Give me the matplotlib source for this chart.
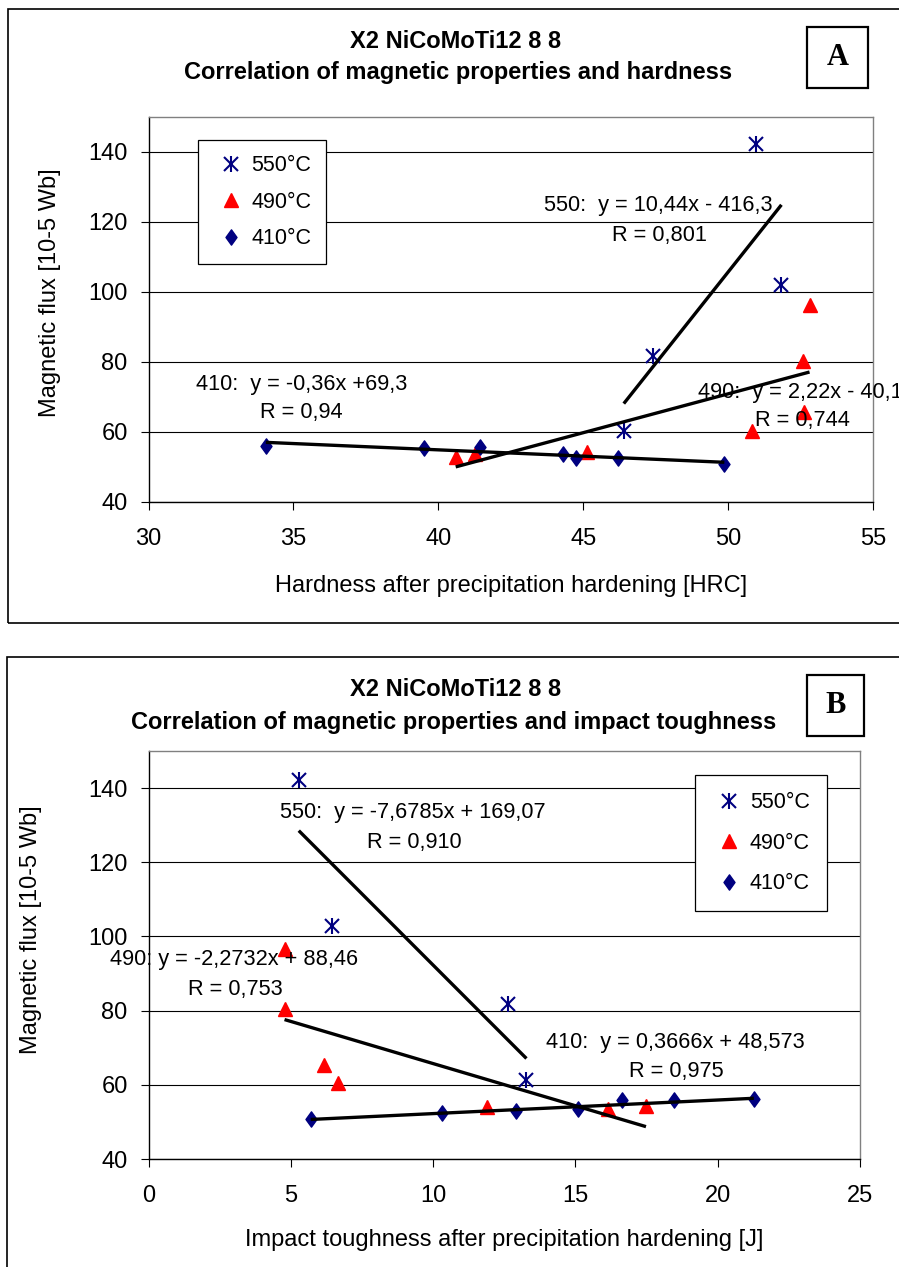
import numpy as np
import matplotlib
matplotlib.use("Agg")
import matplotlib.pyplot as plt
from matplotlib.patches import Rectangle
from matplotlib.path import Path
from matplotlib.legend_handler import HandlerTuple

plt.rcParams['font.family'] = ['Liberation Sans', 'DejaVu Sans']

# ---------------- Data: panel A (hardness) ---------------- #
a_550_x = [50.96, 51.84, 47.41, 46.40]
a_550_y = [142.2, 102.1, 81.8, 60.4]
a_490_x = [40.60, 41.27, 45.14, 50.82, 52.63, 52.60, 52.81]
a_490_y = [52.8, 53.8, 54.3, 60.2, 65.7, 80.4, 96.3]
a_410_x = [34.05, 39.50, 41.43, 44.32, 44.74, 46.20, 49.87]
a_410_y = [56.0, 55.4, 55.7, 53.8, 52.5, 52.6, 50.9]
# trend line coefficients (slope, intercept) as printed on the chart
a_fit = {'550': (10.44, -416.3), '490': (2.22, -40.1), '410': (-0.36, 69.3)}

# ---------------- Data: panel B (impact toughness) ---------------- #
b_550_x = [5.28, 6.46, 12.64, 13.28]
b_550_y = [142.3, 102.8, 81.7, 61.2]
b_490_x = [4.78, 4.78, 6.18, 6.67, 11.88, 16.15, 17.48]
b_490_y = [96.7, 80.5, 65.4, 60.6, 53.9, 53.4, 54.4]
b_410_x = [5.70, 10.32, 12.90, 15.09, 16.63, 18.45, 21.27]
b_410_y = [50.8, 52.4, 53.0, 53.5, 56.0, 55.8, 56.2]
b_fit = {'550': (-7.6785, 169.07), '490': (-2.2732, 88.46), '410': (0.3666, 48.573)}

labels = ['550°C', '490°C', '410°C']
y_ticks = [40, 60, 80, 100, 120, 140]

NAVY = '#000080'
RED = '#FF0000'
FS = 17        # ticks, axis labels, titles
FS_LEG = 15.5  # legend
FS_ANN = 15.7  # trend equations

# Excel-like diamond (taller than wide)
diamond = Path([(0, 1), (0.72, 0), (0, -1), (-0.72, 0), (0, 1)],
               [Path.MOVETO, Path.LINETO, Path.LINETO, Path.LINETO, Path.CLOSEPOLY])


def draw_panel(ax, d550, d490, d410, fits, xlim, xticks, xlabel, ylab_pos, xlab_y):
    # scatter series
    h_x, = ax.plot(d550[0], d550[1], ls='none', marker='x', ms=10, mew=1.5, color=NAVY, zorder=3)
    h_v, = ax.plot(d550[0], d550[1], ls='none', marker='|', ms=12, mew=1.5, color=NAVY, zorder=3)
    h_t, = ax.plot(d490[0], d490[1], ls='none', marker='^', ms=10.5, color=RED, zorder=3)
    h_d, = ax.plot(d410[0], d410[1], ls='none', marker=diamond, ms=11, color=NAVY, zorder=3)

    # linear trend lines across each series' x-range
    for key, (xs, _) in zip(['550', '490', '410'], [d550, d490, d410]):
        m, c = fits[key]
        xx = np.array([min(xs), max(xs)])
        ax.plot(xx, m * xx + c, color='black', lw=2.4, solid_capstyle='butt', zorder=4)

    ax.set_xlim(*xlim)
    ax.set_ylim(40, 150)
    ax.set_xticks(xticks)
    ax.set_yticks(y_ticks)
    ax.yaxis.grid(True, color='black', lw=0.8)
    ax.set_axisbelow(True)
    ax.tick_params(direction='out', length=6, width=0.8, labelsize=FS, color='black')
    ax.tick_params(axis='x', pad=13)
    ax.tick_params(axis='y', pad=9)
    for s in ['left', 'bottom']:
        ax.spines[s].set_color('black')
        ax.spines[s].set_linewidth(1.0)
    for s in ['top', 'right']:
        ax.spines[s].set_color('#808080')
        ax.spines[s].set_linewidth(1.0)
    ax.set_ylabel('Magnetic flux [10-5 Wb]', fontsize=FS)
    ax.yaxis.set_label_coords(*ylab_pos)
    ax.set_xlabel(xlabel, fontsize=FS)
    ax.xaxis.set_label_coords(0.5, xlab_y)
    return [(h_x, h_v), h_t, h_d]


def add_legend(ax, handles, anchor, pad, spacing):
    leg = ax.legend(handles, labels, loc='upper left', bbox_to_anchor=anchor, borderaxespad=0,
                    handler_map={tuple: HandlerTuple(ndivide=1)}, fontsize=FS_LEG,
                    fancybox=False, framealpha=1, edgecolor='black', borderpad=pad,
                    handlelength=1.6, handletextpad=0.15, labelspacing=spacing)
    leg.get_frame().set_linewidth(0.9)


fig = plt.figure(figsize=(8.99, 12.67), dpi=100)

# outer frames
fig.patches.append(Rectangle((8 / 899, 1 - 623 / 1267), 1.1, (623 - 9) / 1267, fill=False,
                             lw=1.2, ec='black', transform=fig.transFigure, figure=fig))
fig.patches.append(Rectangle((7 / 899, -0.1), 1.1, 0.1 + (1267 - 657) / 1267, fill=False,
                             lw=1.2, ec='black', transform=fig.transFigure, figure=fig))

# ---------------- Panel A ---------------- #
axA = fig.add_axes([148.5 / 899, 1 - 502 / 1267, (873 - 148.5) / 899, (502 - 117) / 1267])
hA = draw_panel(axA, (a_550_x, a_550_y), (a_490_x, a_490_y), (a_410_x, a_410_y), a_fit,
                (30, 55), [30, 35, 40, 45, 50, 55],
                'Hardness after precipitation hardening [HRC]', (-0.121, 0.543), -0.19)
add_legend(axA, hA, (0.069, 0.94), 0.7, 0.72)

tkw = dict(fontsize=FS_ANN, va='center', clip_on=False, zorder=5)
axA.text(47.59, 124.6, '550:  y = 10,44x - 416,3', ha='center', **tkw)
axA.text(47.62, 116.2, 'R = 0,801', ha='center', **tkw)
axA.text(35.27, 73.7, '410:  y = -0,36x +69,3', ha='center', **tkw)
axA.text(35.27, 65.7, 'R = 0,94', ha='center', **tkw)
axA.text(48.95, 71.4, '490:  y = 2,22x - 40,1', ha='left', **tkw)
axA.text(52.55, 63.3, 'R = 0,744', ha='center', **tkw)

fig.text(456 / 899, 1 - 42 / 1267, 'X2 NiCoMoTi12 8 8', ha='center', va='center',
         fontsize=FS, fontweight='bold')
fig.text(458 / 899, 1 - 73 / 1267, 'Correlation of magnetic properties and hardness',
         ha='center', va='center', fontsize=FS, fontweight='bold')

# ---------------- Panel B ---------------- #
axB = fig.add_axes([148.5 / 899, 1 - 1159 / 1267, (860 - 148.5) / 899, (1159 - 751) / 1267])
hB = draw_panel(axB, (b_550_x, b_550_y), (b_490_x, b_490_y), (b_410_x, b_410_y), b_fit,
                (0, 25), [0, 5, 10, 15, 20, 25],
                'Impact toughness after precipitation hardening [J]', (-0.149, 0.561), -0.172)
add_legend(axB, hB, (0.768, 0.941), 0.8, 0.9)

axB.text(9.30, 133.5, '550:  y = -7,6785x + 169,07', ha='center', **tkw)
axB.text(9.35, 125.4, 'R = 0,910', ha='center', **tkw)
axB.text(3.00, 93.8, '490: y = -2,2732x + 88,46', ha='center', **tkw)
axB.text(3.04, 85.7, 'R = 0,753', ha='center', **tkw)
axB.text(18.50, 71.5, '410:  y = 0,3666x + 48,573', ha='center', **tkw)
axB.text(18.54, 63.6, 'R = 0,975', ha='center', **tkw)

fig.text(456 / 899, 1 - 690 / 1267, 'X2 NiCoMoTi12 8 8', ha='center', va='center',
         fontsize=FS, fontweight='bold')
fig.text(454 / 899, 1 - 722 / 1267, 'Correlation of magnetic properties and impact toughness',
         ha='center', va='center', fontsize=FS, fontweight='bold')

# panel letters in boxes
for (x0, y0, x1, y1), letter in [((807, 27, 868, 88), 'A'), ((807, 675, 864, 736), 'B')]:
    fig.patches.append(Rectangle((x0 / 899, 1 - y1 / 1267), (x1 - x0) / 899, (y1 - y0) / 1267,
                                 fill=False, lw=1.6, ec='black', transform=fig.transFigure,
                                 figure=fig))
    fig.text((x0 + x1) / 2 / 899, 1 - (y0 + y1) / 2 / 1267, letter, ha='center', va='center',
             fontsize=22, fontweight='bold', family=['Liberation Serif', 'DejaVu Serif'])

fig.savefig('out.png', dpi=100)
